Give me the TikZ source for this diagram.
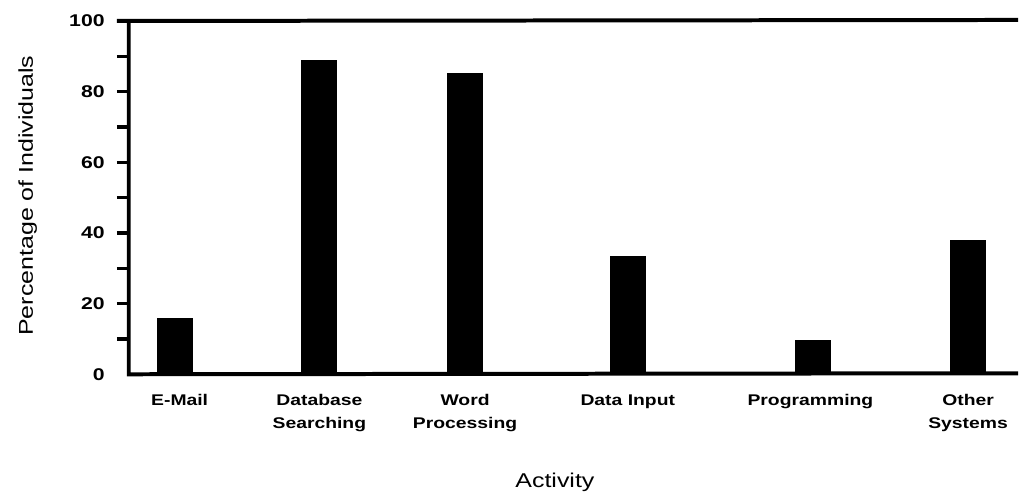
\documentclass[tikz,border=0pt]{standalone}
\usepackage{fontspec}
\usetikzlibrary{positioning}
\newfontfamily\chartfont[FakeStretch=1.25]{Liberation Sans}
\tikzset{%
axisline/.style={line width=4pt},
tickmark/.style={line width=3.5pt},
bar/.style={fill,draw=none,inner sep=0,minimum width=36pt,minimum height={3.54pt*#1},anchor=south},
ticklabel/.style={font=\chartfont\bfseries\fontsize{17}{20}\selectfont,inner sep=0,anchor=east},
catlabel/.style={font=\chartfont\bfseries\fontsize{15.5}{22.5}\selectfont,align=center,inner sep=0,anchor=north},
axistitle/.style={font=\chartfont\fontsize{20}{24}\selectfont,inner sep=0,anchor=base}
}
\begin{document}
\begin{tikzpicture}[x=1pt,y=-1pt]

    \fill[white] (0,0) rectangle (1020,492);

    % bars
    \node[bar=15.8] (email)   at (175,375) {};
    \node[bar=89]   (dbase)   at (320,375) {};
    \node[bar=85.3] (word)    at (466,375) {};
    \node[bar=33.3] (input)   at (629,375) {};
    \node[bar=9.6]  (program) at (815,375) {};
    \node[bar=37.9] (other)   at (970,375) {};

    % axes
    \coordinate (origin) at (129,375);
    \coordinate (ytop)   at (129,21);
    \coordinate (tleft)  at (117,21);
    \coordinate (tright) at (1020,20);
    \coordinate (bright) at (1020,374);
    \draw[axisline] (tleft) -- (tright);
    \draw[axisline] (ytop) -- (origin) -- (bright);

    \foreach \v in {10,20,...,90}
      \draw[tickmark] (117,{375-3.54*\v}) -- (129,{375-3.54*\v});
    \foreach \v in {0,20,...,100}
      \node[ticklabel] at (105,{375-3.54*\v}) {\v};

    % category labels
    \node[catlabel,below=20pt of email,xshift=5pt] (emaillab) {E-Mail};
    \node[catlabel,below=20pt of dbase]   (dbaselab)   {Database\\Searching};
    \node[catlabel,below=20pt of word]    (wordlab)    {Word\\Processing};
    \node[catlabel,below=20pt of input]   (inputlab)   {Data Input};
    \node[catlabel,below=20pt of program,xshift=-3pt] (programlab) {Programming};
    \node[catlabel,below=20pt of other]   (otherlab)   {Other\\Systems};

    % axis titles
    \node[axistitle] (xtitle) at (556,488) {Activity};
    \node[axistitle,rotate=90] (ytitle) at (33,196) {Percentage of Individuals};

\end{tikzpicture}
\end{document}
